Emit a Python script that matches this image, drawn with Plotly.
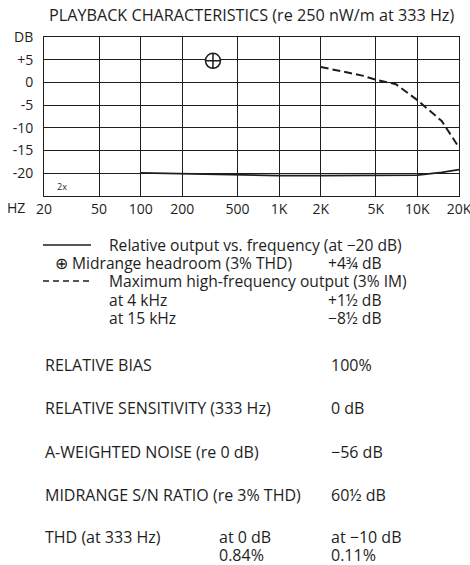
import plotly.graph_objects as go

# ---------------- data ----------------
x_tick_vals = [20, 50, 100, 200, 500, 1000, 2000, 5000, 10000, 20000]
x_tick_text = ["20", "50", "100", "200", "500", "1K", "2K", "5K", "10K", "20K"]
y_tick_vals = [-20, -15, -10, -5, 0, 5, 10]
y_tick_text = ["-20", "-15", "-10", "-5", "0", "+5", "DB"]

resp_freq = [100, 200, 500, 1000, 2000, 5000, 10000, 15000, 20000]
resp_db = [-19.9, -20.1, -20.3, -20.5, -20.5, -20.5, -20.4, -19.8, -19.2]

hf_freq = [2000, 3000, 4000, 5000, 7000, 10000, 15000, 20000]
hf_db = [3.4, 2.3, 1.5, 0.6, -0.4, -3.9, -8.5, -14.3]

headroom_freq = [333]
headroom_db = [4.75]

legend_rows = [
    "Relative output vs. frequency (at \u221220 dB)",
    "\u2295 Midrange headroom (3% THD)",
    "Maximum high-frequency output (3% IM)",
    "at 4 kHz",
    "at 15 kHz",
]
legend_values = ["", "+4\u00be dB", "", "+1\u00bd dB", "\u22128\u00bd dB"]

spec_labels = [
    "RELATIVE BIAS",
    "RELATIVE SENSITIVITY (333 Hz)",
    "A-WEIGHTED NOISE (re 0 dB)",
    "MIDRANGE S/N RATIO (re 3% THD)",
    "THD (at 333 Hz)",
]
spec_values = ["100%", "0 dB", "\u221256 dB", "60\u00bd dB", "at \u221210 dB"]
thd_mid = ["at 0 dB", "0.84%"]
thd_right_2 = "0.11%"

# ---------------- layout geometry (pixels) ----------------
W, H = 470, 565
L, R, T, B = 44, 459, 37, 196
FONT = "Open Sans"
INK = "#1e1e1e"


def px(x):
    return (x - L) / (R - L)


def py(y):
    return (B - y) / (B - T)


fig = go.Figure()

fig.add_trace(go.Scatter(x=resp_freq, y=resp_db, mode="lines",
                         line=dict(color=INK, width=1.8), showlegend=False))
fig.add_trace(go.Scatter(x=hf_freq, y=hf_db, mode="lines",
                         line=dict(color=INK, width=2, dash="8px,4px"),
                         showlegend=False))
fig.add_trace(go.Scatter(x=headroom_freq, y=headroom_db, mode="markers",
                         marker=dict(symbol="circle-cross", size=15, color="white",
                                     line=dict(color=INK, width=1.5)),
                         showlegend=False))

tick_font = dict(family=FONT, size=14, color=INK)
fig.update_xaxes(type="log", range=[1.30103, 4.30103],
                 tickvals=x_tick_vals, ticktext=x_tick_text,
                 showgrid=True, gridcolor=INK, gridwidth=1,
                 showline=True, linecolor=INK, linewidth=1, mirror=True,
                 ticks="", zeroline=False, tickfont=tick_font,
                 ticklabeloverflow="allow", automargin=False)
fig.update_yaxes(range=[-25, 10],
                 tickvals=y_tick_vals, ticktext=y_tick_text,
                 showgrid=True, gridcolor=INK, gridwidth=1,
                 showline=True, linecolor=INK, linewidth=1, mirror=True,
                 ticks="", zeroline=False, tickfont=tick_font,
                 ticklabelstandoff=7, automargin=False)

ann = []
big = dict(family=FONT, size=16, color=INK)
leg_font = dict(family=FONT, size=15.6, color=INK)
# title
ann.append(dict(x=px(47), y=py(15), xref="paper", yref="paper", xanchor="left",
                yanchor="middle", showarrow=False,
                text="PLAYBACK CHARACTERISTICS (re 250 nW/m at 333 Hz)",
                font=dict(family=FONT, size=16.2, color=INK)))
# HZ label
ann.append(dict(x=px(5), y=py(207), xref="paper", yref="paper", xanchor="left",
                yanchor="middle", showarrow=False, text="HZ", font=tick_font))
# 2x
ann.append(dict(x=px(55), y=py(186), xref="paper", yref="paper", xanchor="left",
                yanchor="middle", showarrow=False, text="2x",
                font=dict(family=FONT, size=9, color=INK)))

leg_y = [245, 263, 281, 300, 318]
leg_x = [107, 53, 107, 107, 107]
for txt, val, yy, xx in zip(legend_rows, legend_values, leg_y, leg_x):
    ann.append(dict(x=px(xx), y=py(yy), xref="paper", yref="paper", xanchor="left",
                    yanchor="middle", showarrow=False, text=txt, font=leg_font))
    if val:
        ann.append(dict(x=px(326), y=py(yy), xref="paper", yref="paper",
                        xanchor="left", yanchor="middle", showarrow=False,
                        text=val, font=leg_font))

spec_y = [365, 408, 452, 495, 537]
for txt, val, yy in zip(spec_labels, spec_values, spec_y):
    ann.append(dict(x=px(43), y=py(yy), xref="paper", yref="paper", xanchor="left",
                    yanchor="middle", showarrow=False, text=txt, font=big))
    ann.append(dict(x=px(329), y=py(yy), xref="paper", yref="paper", xanchor="left",
                    yanchor="middle", showarrow=False, text=val, font=big))
ann.append(dict(x=px(217), y=py(537), xref="paper", yref="paper", xanchor="left",
                yanchor="middle", showarrow=False, text=thd_mid[0], font=big))
ann.append(dict(x=px(217), y=py(555), xref="paper", yref="paper", xanchor="left",
                yanchor="middle", showarrow=False, text=thd_mid[1], font=big))
ann.append(dict(x=px(329), y=py(555), xref="paper", yref="paper", xanchor="left",
                yanchor="middle", showarrow=False, text=thd_right_2, font=big))

shapes = [
    dict(type="line", xref="paper", yref="paper", x0=px(43), x1=px(91),
         y0=py(245), y1=py(245), line=dict(color=INK, width=1.3)),
    dict(type="line", xref="paper", yref="paper", x0=px(43), x1=px(91),
         y0=py(281), y1=py(281), line=dict(color=INK, width=1.3, dash="6px,4px")),
]

fig.update_layout(width=W, height=H,
                  margin=dict(l=L, r=W - R, t=T, b=H - B, pad=0, autoexpand=False),
                  paper_bgcolor="white", plot_bgcolor="white",
                  annotations=ann, shapes=shapes, showlegend=False)

fig.write_html("out.html", config={"displayModeBar": False},
               post_script="document.body.style.margin='0';document.body.style.overflow='hidden';")
